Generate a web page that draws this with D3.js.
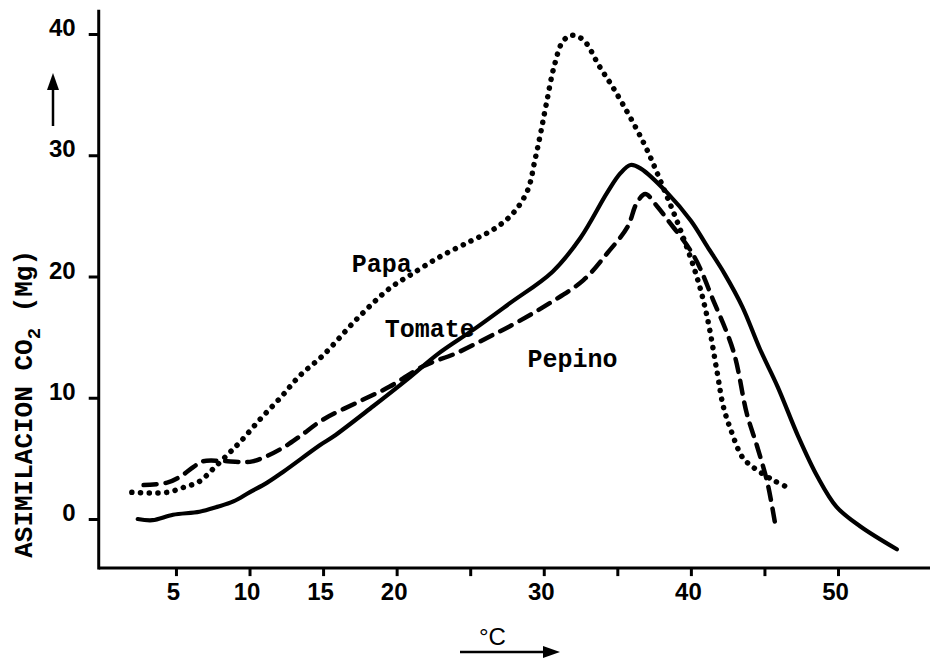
<!DOCTYPE html>
<html>
<head>
<meta charset="utf-8">
<script src="https://cdn.jsdelivr.net/npm/d3@7"></script>
<style>
  body { margin: 0; background: #fff; }
  svg { display: block; }
  .num { font-family: "Liberation Sans", Arial, sans-serif; font-size: 24px; font-weight: bold; fill: #000; }
  .mono { font-family: "Liberation Mono", "DejaVu Sans Mono", monospace; font-weight: bold; fill: #000; }
</style>
</head>
<body>
<script>
// ticks (25, 35, 45 carry a tick mark but no label)
var xTicks = [5, 10, 15, 20, 25, 30, 35, 40, 45, 50];
var xLabels = ['5', '10', '15', '20', '', '30', '', '40', '', '50'];
var yTicks = [0, 10, 20, 30, 40];
var yLabels = ['0', '10', '20', '30', '40'];

// [°C, CO2 assimilation (Mg)]
var papa = [
  [2.0, 2.2], [3.2, 2.15], [4.4, 2.2], [5.5, 2.6], [6.6, 3.1], [7.5, 4.1], [8.5, 5.3],
  [9.4, 6.4], [10.7, 8.2], [12.1, 10.0], [13.4, 11.8], [15.0, 13.5], [17.3, 16.5],
  [19.5, 19.0], [20.9, 20.1], [22.9, 21.6], [25.0, 22.9], [26.6, 23.9], [27.9, 25.2],
  [28.9, 27.1], [29.4, 29.6], [29.8, 31.9], [30.2, 34.4], [30.7, 37.3], [31.3, 39.4],
  [31.9, 39.9], [32.7, 39.5], [33.8, 37.3], [34.9, 35.2], [36.8, 31.0], [38.1, 27.4],
  [39.3, 23.8], [40.4, 20.0], [41.1, 16.7], [41.8, 12.0], [42.2, 9.3], [42.7, 7.4],
  [43.5, 5.1], [44.2, 4.3], [45.6, 3.2], [46.6, 2.6]
];
var tomate = [
  [2.4, 0.0], [3.4, -0.1], [4.8, 0.35], [6.6, 0.6], [7.8, 1.0], [8.9, 1.45], [10.0, 2.2],
  [11.2, 3.0], [12.3, 3.9], [14.8, 6.1], [15.7, 6.8], [18.4, 9.3], [20.7, 11.5],
  [22.9, 13.7], [25.2, 15.6], [27.7, 17.8], [30.6, 20.4], [32.5, 23.2], [34.3, 26.9],
  [35.2, 28.5], [35.9, 29.2], [36.6, 28.9], [38.4, 26.9], [40.0, 24.6], [41.1, 22.5],
  [42.3, 20.2], [43.5, 17.5], [44.7, 14.0], [45.9, 10.9], [47.3, 6.8], [48.6, 3.5],
  [49.9, 1.0], [51.5, -0.6], [54.0, -2.5]
];
var pepino = [
  [2.8, 2.8], [4.4, 3.0], [5.3, 3.5], [6.2, 4.3], [6.8, 4.75], [8.0, 4.8], [9.4, 4.7],
  [10.2, 4.75], [11.2, 5.2], [12.3, 5.9], [13.4, 6.8], [15.0, 8.2], [17.3, 9.6],
  [19.5, 10.9], [21.8, 12.6], [24.1, 13.7], [26.4, 15.1], [27.7, 15.9], [30.4, 17.8],
  [32.7, 19.7], [34.3, 21.9], [35.7, 24.1], [36.3, 26.0], [36.9, 26.8], [37.7, 25.8],
  [38.4, 24.7], [40.2, 21.7], [41.5, 18.1], [42.9, 13.8], [43.8, 8.7], [44.5, 6.0],
  [45.2, 3.0], [45.7, -0.2]
];

var W = 930, H = 659;
var svg = d3.select('body').append('svg').attr('width', W).attr('height', H);

var x = d3.scaleLinear().domain([0, 50]).range([102.4, 838]);
var y = d3.scaleLinear().domain([0, 40]).range([519, 34]);

// axis lines run past the tick range like in the scan
svg.append('line')
  .attr('x1', x(-0.25)).attr('x2', W)
  .attr('y1', y(-4.05)).attr('y2', y(-4.05))
  .attr('stroke', '#000').attr('stroke-width', 3);
svg.append('line')
  .attr('x1', x(-0.25)).attr('x2', x(-0.25))
  .attr('y1', y(-4.05) + 1.5).attr('y2', y(42))
  .attr('stroke', '#000').attr('stroke-width', 3);

var xAxis = svg.append('g')
  .attr('transform', 'translate(0,' + y(-4.05) + ')')
  .call(d3.axisBottom(x).tickValues(xTicks)
    .tickFormat(function(d, i){ return xLabels[i]; })
    .tickSize(8).tickPadding(7));
xAxis.select('.domain').remove();
xAxis.selectAll('line').attr('stroke-width', 3);
xAxis.selectAll('text').attr('class', 'num').attr('dx', -3);

var yAxis = svg.append('g')
  .attr('transform', 'translate(' + x(-0.25) + ',0)')
  .call(d3.axisLeft(y).tickValues(yTicks)
    .tickFormat(function(d, i){ return yLabels[i]; })
    .tickSize(10).tickPadding(13));
yAxis.select('.domain').remove();
yAxis.selectAll('line').attr('stroke-width', 3);
yAxis.selectAll('text').attr('class', 'num').attr('y', -6);
xAxis.attr('font-size', null).attr('font-family', null);
yAxis.attr('font-size', null).attr('font-family', null);

// curves
var line = d3.line()
  .x(function(d){ return x(d[0]); })
  .y(function(d){ return y(d[1]); })
  .curve(d3.curveCatmullRom.alpha(0.5));

svg.append('path').datum(papa).attr('d', line)
  .attr('fill', 'none').attr('stroke', '#000')
  .attr('stroke-width', 5.5).attr('stroke-linecap', 'round')
  .attr('stroke-dasharray', '0.1,8.6');

svg.append('path').datum(tomate).attr('d', line)
  .attr('fill', 'none').attr('stroke', '#000')
  .attr('stroke-width', 4.2).attr('stroke-linecap', 'round').attr('stroke-linejoin', 'round');

svg.append('path').datum(pepino).attr('d', line)
  .attr('fill', 'none').attr('stroke', '#000')
  .attr('stroke-width', 4.5).attr('stroke-linecap', 'round')
  .attr('stroke-dasharray', '13,9');

// series names
svg.append('text').attr('class', 'mono').attr('font-size', 25)
  .attr('x', x(16.95)).attr('y', y(20.4)).text('Papa');
svg.append('text').attr('class', 'mono').attr('font-size', 25)
  .attr('x', x(19.2)).attr('y', y(15.0)).text('Tomate');
svg.append('text').attr('class', 'mono').attr('font-size', 25)
  .attr('x', x(28.9)).attr('y', y(12.5)).text('Pepino');

// y title
var yTitle = svg.append('text').attr('class', 'mono').attr('font-size', 26)
  .attr('transform', 'translate(32,' + y(-3.2) + ') rotate(-90)');
yTitle.append('tspan').text('ASIMILACION CO');
yTitle.append('tspan').attr('font-size', 19).attr('dy', 8).text('2');
yTitle.append('tspan').attr('dy', -8).text(' (Mg)');

// arrows
function arrow(x1, y1, x2, y2){
  var a = Math.atan2(y2 - y1, x2 - x1), len = 17, w = 6;
  var bx = x2 - len * Math.cos(a), by = y2 - len * Math.sin(a);
  svg.append('line').attr('x1', x1).attr('y1', y1).attr('x2', bx).attr('y2', by)
    .attr('stroke', '#000').attr('stroke-width', 2.5);
  svg.append('path')
    .attr('d', 'M' + x2 + ',' + y2 +
      'L' + (bx + w * Math.sin(a)) + ',' + (by - w * Math.cos(a)) +
      'L' + (bx - w * Math.sin(a)) + ',' + (by + w * Math.cos(a)) + 'Z')
    .attr('fill', '#000');
}
arrow(53, 126, 53, 73);
arrow(460, 652, 560, 652);

svg.append('text').attr('class', 'num').style('font-weight', 'normal')
  .attr('x', 479).attr('y', 645).text('°C');
</script>
</body>
</html>
